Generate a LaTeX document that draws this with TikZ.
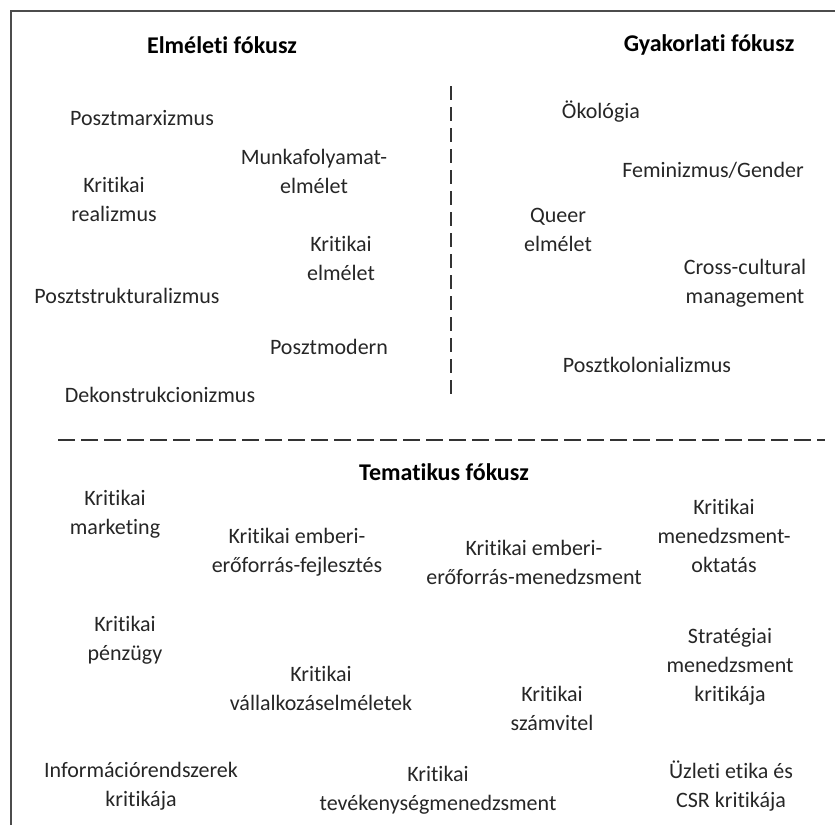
\documentclass[tikz,border=0pt]{standalone}
\usepackage{fontspec}
\setmainfont{Carlito}[Ligatures=NoCommon]
\usepackage{tikz}
\usetikzlibrary{positioning, calc}

\begin{document}
\begin{tikzpicture}[x=1pt, y=-1pt,
    every node/.style={align=center, inner sep=0pt, text=black!85,
        font=\fontsize{22}{29}\selectfont},
    head/.style={text=black, font=\fontsize{24}{29}\selectfont\bfseries},
    sepline/.style={line width=2pt, black!80}]
    \useasboundingbox (0,0) rectangle (835,825);
    % frame (cut off at right and bottom)
    \draw[line width=1.5pt, black!70] (11,825) -- (11,11) -- (835,11);

    % separators
    \coordinate (vtop) at (451,86);
    \coordinate (vbot) at (451,398);
    \coordinate (hl) at (58,440);
    \coordinate (hr) at (825,440);
    \draw[sepline, dash pattern=on 14pt off 7pt] (vtop) -- (vbot);
    \draw[sepline, dash pattern=on 17pt off 6pt] (hl) -- (hr);

    % headings
    \node[head] (elm) at (222,45) {Elméleti fókusz};
    \node[head] (gyak) at (709,45) {Gyakorlati fókusz};
    \node[head] (tem) at (444,472) {Tematikus fókusz};

    % elmeleti
    \node (pmarx) at (142,118) {Posztmarxizmus};
    \node (munka) at (314,171) {Munkafolyamat-\\elmélet};
    \node (krreal) at (114,199) {Kritikai\\realizmus};
    \node (krelm) at (341,258) {Kritikai\\elmélet};
    \node (pstruk) at (127,296) {Posztstrukturalizmus};
    \node (pmod) at (329,347) {Posztmodern};
    \node (dekon) at (160,395) {Dekonstrukcionizmus};

    % gyakorlati
    \node (okol) at (601,112) {Ökológia};
    \node (femin) at (713,170) {Feminizmus/Gender};
    \node (queer) at (558,230) {Queer\\elmélet};
    \node (cross) at (745,283) {Cross-cultural\\management};
    \node (pkol) at (647,365) {Posztkolonializmus};

    % tematikus
    \node (krmark) at (115,514) {Kritikai\\marketing};
    \node (emfejl) at (297,552) {Kritikai emberi-\\erőforrás-fejlesztés};
    \node (emmen) at (534,562) {Kritikai emberi-\\erőforrás-menedzsment};
    \node (mokt) at (724,536) {Kritikai\\menedzsment-\\oktatás};
    \node (krpenz) at (125,640) {Kritikai\\pénzügy};
    \node (vall) at (321,688) {Kritikai\\vállalkozáselméletek};
    \node (strat) at (730,667) {Stratégiai\\menedzsment\\kritikája};
    \node (szamv) at (552,708) {Kritikai\\számvitel};
    \node (info) at (141,786) {Információrendszerek\\kritikája};
    \node (tevek) at (438,790) {Kritikai\\tevékenységmenedzsment};
    \node (uzleti) at (731,786) {Üzleti etika és\\CSR kritikája};
\end{tikzpicture}
\end{document}
